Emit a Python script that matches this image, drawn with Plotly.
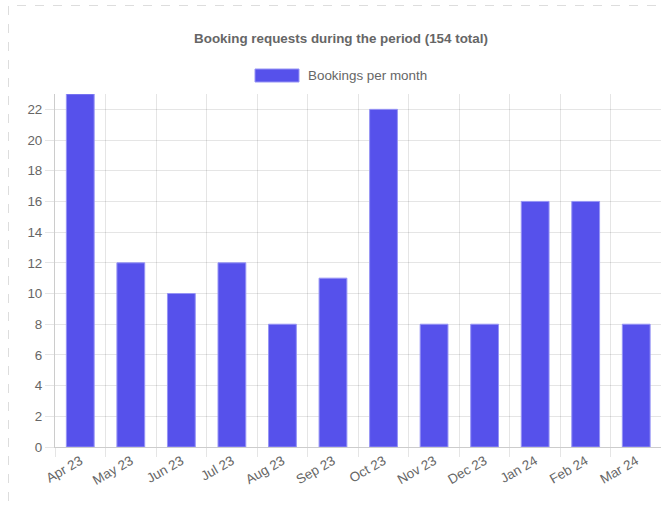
import plotly.graph_objects as go

months = ["Apr 23", "May 23", "Jun 23", "Jul 23", "Aug 23", "Sep 23",
          "Oct 23", "Nov 23", "Dec 23", "Jan 24", "Feb 24", "Mar 24"]
bookings = [23, 12, 10, 12, 8, 11, 22, 8, 8, 16, 16, 8]
series_name = "Bookings per month"
title_text = f"Booking requests during the period ({sum(bookings)} total)"

W, H = 661, 510
L, T = 55, 94
R = 0
B = H - 447
pw = W - L - R
ph = H - T - B


def px_x(p):  # screen px -> paper
    return (p - L) / pw


def px_y(p):
    return (H - B - p) / ph


BAR = "#5651EB"
BAR_EDGE = "rgba(150,148,245,1)"
GRID = "rgba(0,0,0,0.1)"
TXT = "#666666"
FONT = "Liberation Sans, Arial, Helvetica, sans-serif"
FS = 13.4

fig = go.Figure(go.Bar(
    x=months, y=bookings, name=series_name,
    marker=dict(color=BAR, line=dict(color=BAR_EDGE, width=1)),
    width=0.55, showlegend=False,
))

fig.update_layout(
    width=W, height=H,
    margin=dict(l=L, r=R, t=T, b=B),
    paper_bgcolor="white", plot_bgcolor="white",
    font=dict(family=FONT, size=FS, color=TXT),
    title=dict(text=f"<b>{title_text}</b>", x=341 / W, xanchor="center",
               y=1 - 38 / H, yanchor="middle",
               font=dict(size=FS, color=TXT, family=FONT)),
    xaxis=dict(
        type="category", tickson="boundaries", showgrid=True, gridcolor=GRID,
        ticks="outside", ticklen=9, tickcolor=GRID, tickangle=-30,
        showline=True, linecolor="rgba(0,0,0,0.2)", linewidth=1,
        tickfont=dict(size=FS, color=TXT), range=[-0.5, 11.49],
    ),
    yaxis=dict(
        range=[0, 23], dtick=2, showgrid=True, gridcolor=GRID,
        ticks="outside", ticklen=9, tickcolor=GRID, zeroline=False,
        showline=True, linecolor="rgba(0,0,0,0.2)", linewidth=1,
        tickfont=dict(size=FS, color=TXT),
    ),
    shapes=[
        dict(type="rect", xref="paper", yref="paper",
             x0=px_x(8.5), x1=px_x(700), y0=px_y(530), y1=px_y(5.5),
             line=dict(color="#dddddd", width=1, dash="dash"), layer="below"),
        dict(type="rect", xref="paper", yref="paper",
             x0=px_x(255), x1=px_x(299), y0=px_y(82), y1=px_y(69),
             fillcolor=BAR, line=dict(color=BAR_EDGE, width=1)),
    ],
    annotations=[
        dict(text=series_name, xref="paper", yref="paper",
             x=px_x(306), y=px_y(75.5), xanchor="left", yanchor="middle",
             showarrow=False, font=dict(size=FS, color=TXT, family=FONT)),
    ],
)

fig.write_html(
    "out.html",
    config={"displayModeBar": False},
    post_script="document.body.style.margin='0';document.body.style.overflow='hidden';",
)
